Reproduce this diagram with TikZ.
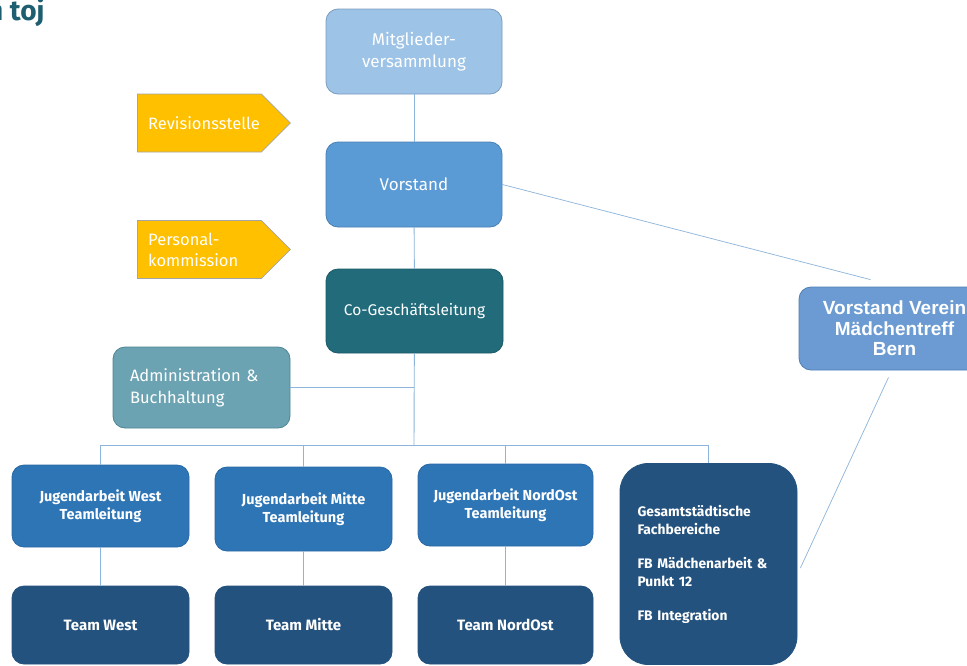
\documentclass[tikz,border=0pt]{standalone}
\usepackage{fontspec}
\setmainfont{Fira Sans}
\newfontfamily\arialfont{Liberation Sans}
\usetikzlibrary{shapes.symbols,calc}
\definecolor{mvfill}{HTML}{9DC3E6}
\definecolor{mvdraw}{HTML}{7A9CC0}
\definecolor{vsfill}{HTML}{5B9BD5}
\definecolor{vsdraw}{HTML}{4A80B5}
\definecolor{coglfill}{HTML}{216B7B}
\definecolor{cogldraw}{HTML}{1B5A68}
\definecolor{admfill}{HTML}{6BA3B3}
\definecolor{admdraw}{HTML}{4E8595}
\definecolor{jfill}{HTML}{2E75B6}
\definecolor{jdraw}{HTML}{2A68A3}
\definecolor{tfill}{HTML}{24527E}
\definecolor{vvfill}{HTML}{6B9BD2}
\definecolor{vvdraw}{HTML}{4F7FB5}
\definecolor{yel}{HTML}{FFC000}
\definecolor{yeldraw}{HTML}{A5A5A5}
\definecolor{linec}{HTML}{8DB4DA}
\definecolor{titlec}{HTML}{1D5E70}
\begin{document}
\begin{tikzpicture}[x=1pt,y=-1pt,
  box/.style={rounded corners=12pt, line width=0.8pt, text=white, align=center, inner sep=0pt},
  topfont/.style={font=\fontsize{17}{21.5}\selectfont},
  boldfont/.style={font=\bfseries\fontsize{14.5}{18}\selectfont},
  conn/.style={draw=linec, line width=0.9pt},
  arrowbox/.style={signal, signal to=east, signal from=nowhere, fill=yel, draw=yeldraw, line width=0.8pt, minimum width=153, minimum height=58, anchor=west, inner sep=0pt},
  arrowtext/.style={anchor=west, text=white, align=left, inner sep=0pt, font=\fontsize{16.5}{21}\selectfont}
]
\useasboundingbox (0,0) rectangle (967,665);
\fill[white] (0,0) rectangle (967,665);

% title fragment
\node[anchor=base west, inner sep=0pt, text=titlec, font=\bfseries\fontsize{28}{30}\selectfont] (title) at (-13,20) {n toj};

% top chain
\node[box, topfont, fill=mvfill, draw=mvdraw, minimum width=176, minimum height=85] (mv) at (414,51.5) {Mitglieder-\\versammlung};
\node[box, topfont, fill=vsfill, draw=vsdraw, minimum width=176, minimum height=85] (vs) at (414,184.5) {Vorstand};
\node[box, font=\fontsize{15.5}{20}\selectfont, fill=coglfill, draw=cogldraw, minimum width=177, minimum height=84] (cogl) at (414.5,311) {Co-Geschäftsleitung};
\node[box, font=\fontsize{16.5}{22}\selectfont, fill=admfill, draw=admdraw, minimum width=177, minimum height=81, text width=143, align=left] (admin) at (201.5,387.5) {Administration \&\\Buchhaltung};

% yellow arrows
\node[arrowbox] (rev) at (137,123) {};
\node[arrowtext] (revt) at (148,123) {Revisionsstelle};
\node[arrowbox] (per) at (137,249.5) {};
\node[arrowtext] (pert) at (148,249.5) {Personal-\\kommission};

% team leads
\node[box, boldfont, fill=jfill, draw=jdraw, minimum width=177, minimum height=82] (jw) at (100.5,506) {Jugendarbeit West\\Teamleitung};
\node[box, boldfont, fill=jfill, draw=jdraw, minimum width=177, minimum height=84] (jm) at (303.5,509) {Jugendarbeit Mitte\\Teamleitung};
\node[box, boldfont, fill=jfill, draw=jdraw, minimum width=175, minimum height=82] (jn) at (505.5,505) {Jugendarbeit NordOst\\Teamleitung};

% teams
\node[box, font=\bfseries\fontsize{15}{18}\selectfont, fill=tfill, draw=tfill, minimum width=177, minimum height=78] (tw) at (100.5,625) {Team West};
\node[box, font=\bfseries\fontsize{15}{18}\selectfont, fill=tfill, draw=tfill, minimum width=177, minimum height=78] (tm) at (303.5,625) {Team Mitte};
\node[box, font=\bfseries\fontsize{15}{18}\selectfont, fill=tfill, draw=tfill, minimum width=175, minimum height=78] (tn) at (505.5,625) {Team NordOst};

% Gesamtstaedtische
\node[box, rounded corners=28pt, font=\bfseries\fontsize{13.8}{18.5}\selectfont, fill=tfill, draw=tfill, minimum width=177, minimum height=201, text width=142, align=left] (ges) at (708.5,564) {Gesamtstädtische\\Fachbereiche\\[15pt]FB Mädchenarbeit \&\\Punkt 12\\[15pt]FB Integration};

% Vorstand Verein
\node[box, font=\arialfont\bfseries\fontsize{19}{20.5}\selectfont, fill=vvfill, draw=vvdraw, minimum width=191, minimum height=83] (vv) at (894.5,328.5) {Vorstand Verein\\Mädchentreff\\Bern};

% connectors
\coordinate (bus) at (414,445);
\draw[conn] (mv) -- (vs);
\draw[conn] (vs) -- (cogl);
\draw[conn] (cogl) -- (bus);
\draw[conn] (admin.east) -- (admin.east -| bus);
\draw[conn] (jw.north) |- (ges.north |- bus) -- (ges.north);
\draw[conn] (jm.north) -- (jm.north |- bus);
\draw[conn] (jn.north) -- (jn.north |- bus);
\draw[conn] (jw) -- (tw);
\draw[conn] (jm) -- (tm);
\draw[conn] (jn) -- (tn);
\coordinate (vvtop) at ($(vv.north)+(-24,-7)$);
\coordinate (vvbot) at ($(vv.south)+(-6,7)$);
\coordinate (gesr) at ($(ges.east)+(3,4)$);
\draw[conn, line width=0.7pt] (vs.east) -- (vvtop);
\draw[conn, line width=0.7pt] (vvbot) -- (gesr);
\end{tikzpicture}
\end{document}
